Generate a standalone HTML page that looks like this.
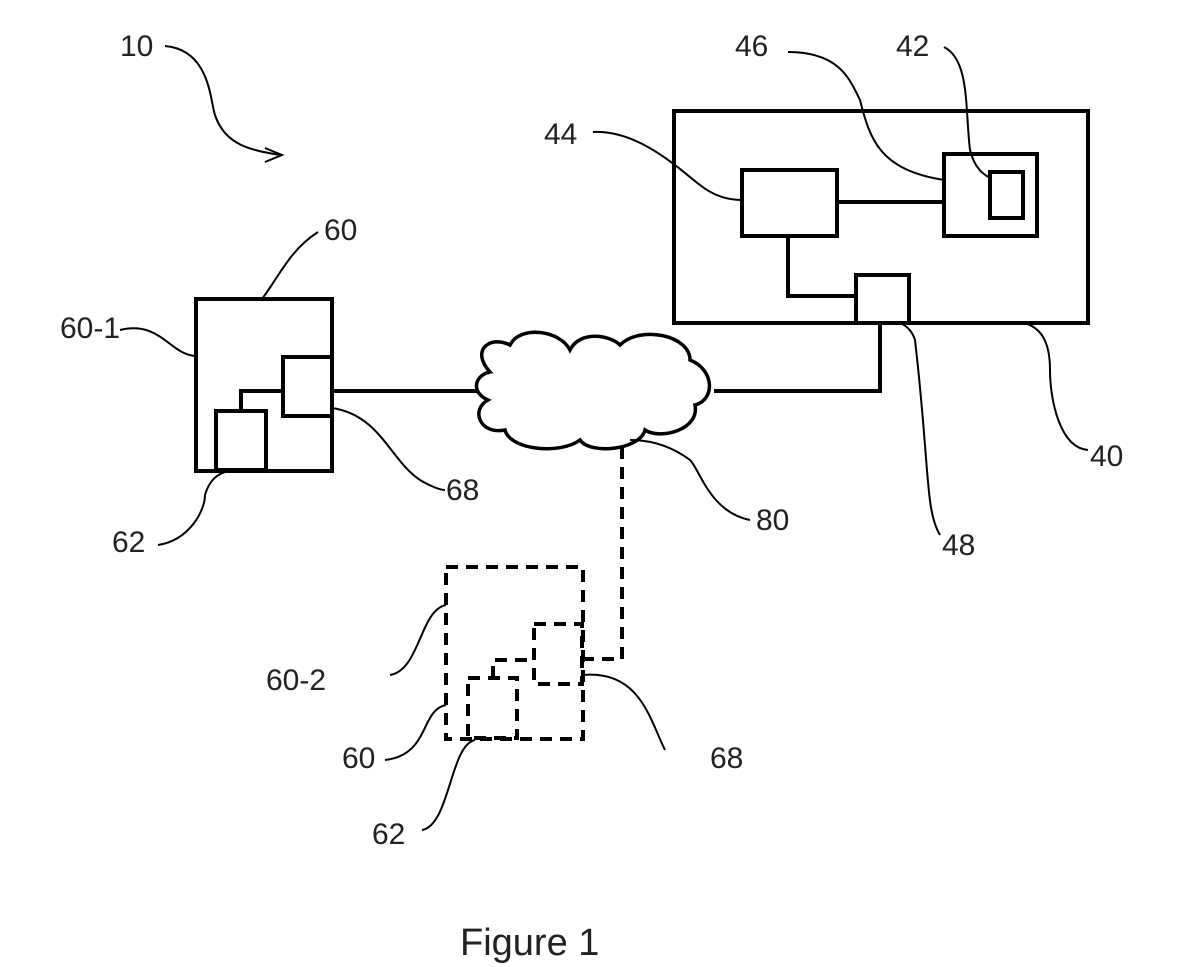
<!DOCTYPE html>
<html><head><meta charset="utf-8"><style>html,body{margin:0;padding:0;background:#fff}svg{display:block}</style></head>
<body>
<svg width="1199" height="967" viewBox="0 0 1199 967" xmlns="http://www.w3.org/2000/svg">
<g font-family="Liberation Sans, sans-serif" font-size="30" fill="#222">
<text x="120" y="56">10</text>
<text x="324" y="240">60</text>
<text x="60" y="338">60-1</text>
<text x="446" y="500">68</text>
<text x="112" y="552">62</text>
<text x="756" y="530">80</text>
<text x="942" y="555">48</text>
<text x="1090" y="466">40</text>
<text x="544" y="144">44</text>
<text x="735" y="56">46</text>
<text x="896" y="56">42</text>
<text x="266" y="690">60-2</text>
<text x="342" y="768">60</text>
<text x="710" y="768">68</text>
<text x="372" y="844">62</text>
<text x="460" y="955" font-size="38">Figure 1</text>
</g>
<g fill="none" stroke="#000" stroke-width="4">
<rect x="196" y="299" width="136" height="172"/>
<rect x="283" y="357" width="49" height="59"/>
<rect x="216" y="411" width="50" height="59"/>
<polyline points="241,411 241,391 283,391"/>
<line x1="332" y1="391" x2="478" y2="391"/>
<polyline points="714,391 880,391 880,323"/>
<rect x="674" y="111" width="414" height="212"/>
<rect x="742" y="170" width="95" height="66"/>
<rect x="944" y="154" width="93" height="82"/>
<rect x="990" y="172" width="33" height="46"/>
<line x1="837" y1="202" x2="944" y2="202"/>
<polyline points="788,236 788,296 856,296"/>
<rect x="856" y="275" width="53" height="48" fill="#fff"/>
<path d="M490,372 C470,350 490,335 510,345 C520,325 560,330 570,350 C580,330 610,335 620,345 C640,325 690,335 690,360 C715,370 715,400 695,405 C700,430 660,440 645,430 C640,450 590,455 580,440 C560,455 510,450 505,430 C480,435 470,410 488,400 C470,392 475,375 490,372 Z" stroke-width="3.5" fill="#fff"/>
</g>
<g fill="none" stroke="#000" stroke-width="4" stroke-dasharray="12,8">
<rect x="446" y="567" width="137" height="172"/>
<rect x="534" y="624" width="48" height="60"/>
<rect x="468" y="678" width="49" height="60"/>
<polyline points="493,678 493,660 534,660"/>
<polyline points="622,447 622,659 583,659"/>
</g>
<g fill="none" stroke="#000" stroke-width="2">
<path d="M165,46 C210,50 210,100 215,115 C225,145 250,150 280,155"/>
<path d="M265,148 L282,155 L265,162"/>
<path d="M318,232 C290,250 280,275 262,299"/>
<path d="M120,330 C160,320 170,355 196,356"/>
<path d="M332,408 C380,415 390,460 420,480 C430,486 440,490 445,490"/>
<path d="M158,545 C190,540 205,510 205,495 C210,478 220,470 240,470"/>
<path d="M750,520 C710,512 700,470 690,460 C670,445 650,440 630,440"/>
<path d="M940,535 C925,510 930,470 915,340 C912,330 905,325 900,323"/>
<path d="M1088,450 C1060,448 1050,400 1050,370 C1050,340 1040,328 1025,323"/>
<path d="M593,132 C640,130 680,170 700,185 C715,197 730,200 742,200"/>
<path d="M788,52 C840,52 850,80 860,100 C870,140 880,170 944,180"/>
<path d="M944,47 C970,60 965,110 970,150 C975,170 985,175 990,178"/>
<path d="M390,675 C420,670 420,610 446,605"/>
<path d="M385,760 C430,755 420,710 446,705"/>
<path d="M422,830 C450,825 450,745 475,740"/>
<path d="M583,675 C640,670 650,720 665,750"/>
</g>
</svg>
</body></html>
